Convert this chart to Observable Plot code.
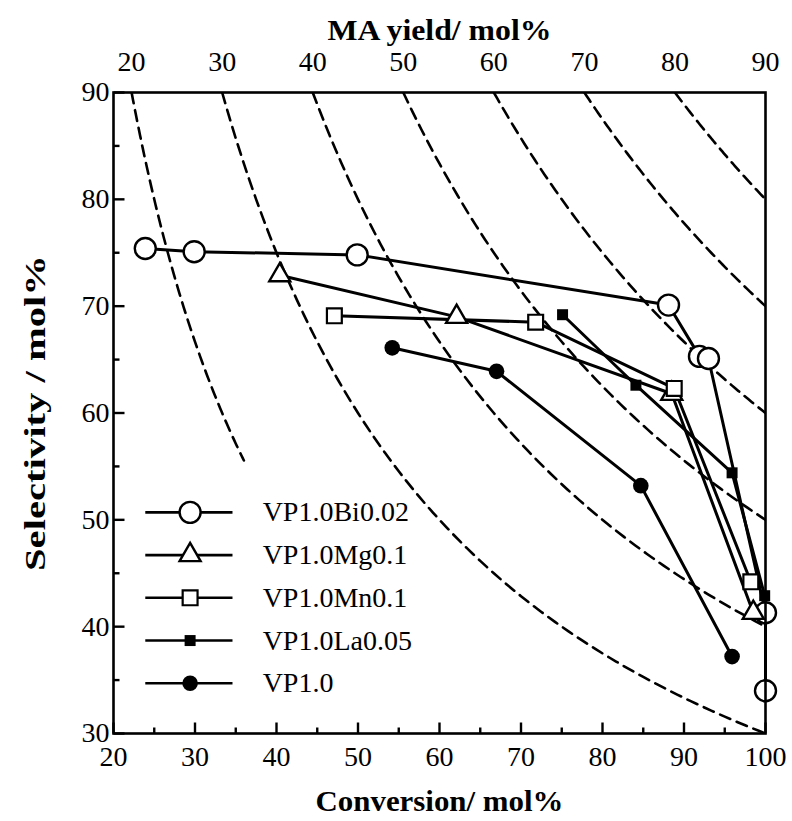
<!DOCTYPE html>
<html><head><meta charset="utf-8">
<script src="https://cdn.jsdelivr.net/npm/d3@7"></script>
<script src="https://cdn.jsdelivr.net/npm/@observablehq/plot@0.6"></script>
<style>body{margin:0;background:#fff}</style>
</head><body><div id="chart"></div>
<script>
// ---- data ----
const seriesNames = ["VP1.0Bi0.02", "VP1.0Mg0.1", "VP1.0Mn0.1", "VP1.0La0.05", "VP1.0"];
const biConv = [23.9, 29.9, 49.9, 88.1, 91.9, 93.0, 100.0, 100.0];
const biSel  = [75.4, 75.1, 74.8, 70.1, 65.3, 65.1, 41.3, 34.0];
const mgConv = [40.4, 62.1, 88.5, 98.5];
const mgSel  = [72.9, 69.0, 61.8, 41.3];
const mnConv = [47.1, 71.8, 88.8, 98.2];
const mnSel  = [69.1, 68.5, 62.3, 44.2];
const laConv = [75.1, 84.1, 95.9, 99.9];
const laSel  = [69.2, 62.6, 54.4, 42.9];
const vpConv = [54.2, 67.0, 84.7, 95.9];
const vpSel  = [66.1, 63.9, 53.2, 37.2];
const yieldLevels = [20, 30, 40, 50, 60, 70, 80, 90];
const yieldCurveEndConv = [36, 100, 100, 100, 100, 100, 100, 100];
const convTicks = [20, 30, 40, 50, 60, 70, 80, 90, 100];
const convMinorTicks = [25, 35, 45, 55, 65, 75, 85, 95];
const selTicks = [30, 40, 50, 60, 70, 80, 90];
const selMinorTicks = [35, 45, 55, 65, 75, 85];
const titleTop = "MA yield/ mol%";
const titleX = "Conversion/ mol%";
const titleY = "Selectivity / mol%";

// ---- styles / layout ----
const styles = [
  {symbol: "circle",   r: 10.5, fill: "white", strokeWidth: 2.4},
  {symbol: "triangle", r: 7.8,  fill: "white", strokeWidth: 2.4},
  {symbol: "square",   r: 8.4,  fill: "white", strokeWidth: 2.2},
  {symbol: "square",   r: 6.2,  fill: "black", strokeWidth: 0},
  {symbol: "circle",   r: 7.8,  fill: "black", strokeWidth: 0}
];
const legendLayout = {x1: 23.9, x2: 34.6, xMark: 29.4, xText: 38.3, yTop: 50.7, step: 4.0};
const titleLengths = {top: 224, x: 248, y: 316};

const convs = [biConv, mgConv, mnConv, laConv, vpConv];
const sels = [biSel, mgSel, mnSel, laSel, vpSel];
const series = seriesNames.map((name, i) => ({
  name, style: styles[i],
  points: convs[i].map((c, j) => ({conv: c, sel: sels[i][j]}))
}));

// iso-yield reference curves: selectivity = yield*100/conversion
const curves = yieldLevels.map((Y, i) => {
  const c0 = Math.max(20, Y / 0.9), c1 = Math.min(yieldCurveEndConv[i], Y / 0.3);
  const n = 80, pts = [];
  for (let k = 0; k <= n; k++) { const c = c0 + (c1 - c0) * k / n; pts.push({conv: c, sel: Y * 100 / c, Y}); }
  return pts;
}).flat();

const H = 821, mT = 92, mB = 88, W = 792, mL = 113, mR = 27;
const innerH = H - mT - mB, innerW = W - mL - mR;
const pxY = 60 / innerH, pxX = 80 / innerW; // data units per pixel
const majorLen = 11, minorLen = 6;

const xTickData = [
  ...convTicks.map(v => ({v, len: majorLen})),
  ...convMinorTicks.map(v => ({v, len: minorLen}))
];
const yTickData = [
  ...selTicks.map(v => ({v, len: majorLen})),
  ...selMinorTicks.map(v => ({v, len: minorLen}))
];

const marks = [];
marks.push(Plot.line(curves, {x: "conv", y: "sel", z: "Y", stroke: "black", strokeWidth: 2.6, strokeDasharray: "11,7", clip: true}));
series.forEach(s => {
  marks.push(Plot.line(s.points, {x: "conv", y: "sel", stroke: "black", strokeWidth: 3}));
});
series.forEach(s => {
  const st = s.style;
  marks.push(Plot.dot(s.points, {x: "conv", y: "sel", symbol: st.symbol, r: st.r, fill: st.fill, stroke: "black", strokeWidth: st.strokeWidth}));
});
// legend
series.forEach((s, i) => {
  const yy = legendLayout.yTop - i * legendLayout.step;
  const st = s.style;
  marks.push(Plot.link([0], {x1: legendLayout.x1, x2: legendLayout.x2, y1: yy, y2: yy, stroke: "black", strokeWidth: 2.6}));
  marks.push(Plot.dot([0], {x: legendLayout.xMark, y: yy, symbol: st.symbol, r: st.r, fill: st.fill, stroke: "black", strokeWidth: st.strokeWidth}));
  marks.push(Plot.text([s.name], {x: legendLayout.xText, y: yy, text: d => d, textAnchor: "start", fontSize: 28}));
});
// inward ticks
marks.push(Plot.link(xTickData, {x1: "v", x2: "v", y1: () => 30, y2: d => 30 + d.len * pxY, stroke: "black", strokeWidth: 2.4}));
marks.push(Plot.link(yTickData, {y1: "v", y2: "v", x1: () => 20, x2: d => 20 + d.len * pxX, stroke: "black", strokeWidth: 2.4}));
marks.push(Plot.frame({stroke: "black", strokeWidth: 2.6}));
// axes labels
marks.push(Plot.axisX(convTicks, {anchor: "bottom", tickSize: 0, tickPadding: 13, label: null, fontSize: 28}));
marks.push(Plot.axisY(selTicks, {anchor: "left", tickSize: 0, tickPadding: 4, label: null, fontSize: 28}));
marks.push(Plot.text(yieldLevels, {x: d => d / 0.9, text: d => String(d), frameAnchor: "top", lineAnchor: "middle", dy: -30, fontSize: 28}));
// titles
marks.push(Plot.text([titleTop], {text: d => d, frameAnchor: "top", lineAnchor: "middle", dy: -62, fontSize: 30, fontWeight: "bold"}));
marks.push(Plot.text([titleX], {text: d => d, frameAnchor: "bottom", lineAnchor: "middle", dy: 68, fontSize: 30, fontWeight: "bold"}));
marks.push(Plot.text([titleY], {text: d => d, frameAnchor: "left", textAnchor: "middle", lineAnchor: "middle", dx: -78, rotate: -90, fontSize: 30, fontWeight: "bold"}));

const chart = Plot.plot({
  width: W, height: H,
  marginTop: mT, marginBottom: mB, marginLeft: mL, marginRight: mR,
  x: {domain: [20, 100], axis: null},
  y: {domain: [30, 90], axis: null},
  style: {fontFamily: "'Liberation Serif', 'DejaVu Serif', serif", fontSize: "28px", color: "black", background: "white"},
  marks
});
// stretch titles to the reference's widths
const lens = {[titleTop]: titleLengths.top, [titleX]: titleLengths.x, [titleY]: titleLengths.y};
d3.select(chart).selectAll("text").each(function () {
  const t = this.textContent;
  if (lens[t]) { this.setAttribute("textLength", lens[t]); this.setAttribute("lengthAdjust", "spacingAndGlyphs"); }
});
document.getElementById("chart").appendChild(chart);
</script>
</body></html>
